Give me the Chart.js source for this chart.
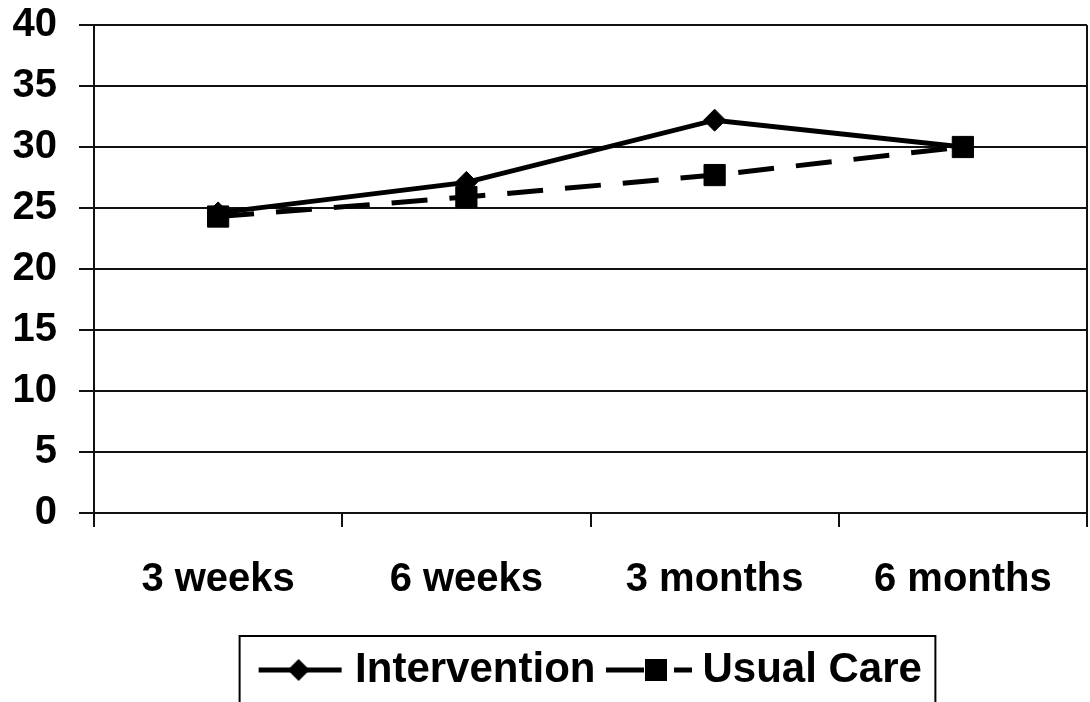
<!DOCTYPE html>
<html>
<head>
<meta charset="utf-8">
<script src="https://cdn.jsdelivr.net/npm/chart.js@4"></script>
<style>
  html, body { margin: 0; padding: 0; background: #fff; }
  #wrap { width: 1090px; height: 702px; }
</style>
</head>
<body>
<div id="wrap"><canvas id="c" width="1090" height="702"></canvas></div>
<script>
const categories = ['3 weeks', '6 weeks', '3 months', '6 months'];
const interventionValues = [24.6, 27.1, 32.2, 30.0];
const usualCareValues = [24.3, 25.9, 27.7, 30.0];
const seriesNames = ['Intervention', 'Usual Care'];
const yTickValues = [0, 5, 10, 15, 20, 25, 30, 35, 40];

const FONT = 'Liberation Sans, Arial, Helvetica, sans-serif';

function legendIcon(kind) {
  const cv = document.createElement('canvas');
  cv.width = 100; cv.height = 30;
  const g = cv.getContext('2d');
  g.strokeStyle = '#000'; g.fillStyle = '#000'; g.lineWidth = 5;
  if (kind === 'diamond') {
    g.beginPath(); g.moveTo(12, 15); g.lineTo(95, 15); g.stroke();
    g.beginPath();
    g.moveTo(52, 4); g.lineTo(63, 15); g.lineTo(52, 26); g.lineTo(41, 15); g.closePath(); g.fill();
  } else {
    g.beginPath(); g.moveTo(12, 15); g.lineTo(50, 15); g.stroke();
    g.fillRect(51, 4, 22, 22);
    g.beginPath(); g.moveTo(80, 15); g.lineTo(98, 15); g.stroke();
  }
  return cv;
}
const icons = [legendIcon('diamond'), legendIcon('square')];

const legendBorder = {
  id: 'legendBorder',
  afterDraw(chart) {
    const lg = chart.legend;
    if (!lg || !lg.legendHitBoxes || !lg.legendHitBoxes.length) return;
    const hb = lg.legendHitBoxes;
    const left = hb[0].left - 19.5;
    const last = hb[hb.length - 1];
    const right = last.left + last.width + 13.5;
    const top = lg.top - 2;
    const ctx = chart.ctx;
    ctx.save();
    ctx.strokeStyle = '#000';
    ctx.lineWidth = 2;
    ctx.strokeRect(left, top, right - left, chart.height + 10 - top);
    ctx.restore();
  }
};

new Chart(document.getElementById('c'), {
  type: 'line',
  data: {
    labels: categories,
    datasets: [
      {
        label: seriesNames[0],
        data: interventionValues,
        borderColor: '#000',
        backgroundColor: '#000',
        borderWidth: 5,
        pointStyle: 'rectRot',
        pointRadius: 11,
        pointHoverRadius: 11,
        pointBackgroundColor: '#000',
        pointBorderColor: '#000',
        pointBorderWidth: 1,
        tension: 0,
        order: 1
      },
      {
        label: seriesNames[1],
        data: usualCareValues,
        borderColor: '#000',
        backgroundColor: '#000',
        borderWidth: 5,
        borderDash: [36, 22],
        pointStyle: 'rect',
        pointRadius: 15,
        pointHoverRadius: 15,
        pointBackgroundColor: '#000',
        pointBorderColor: '#000',
        pointBorderWidth: 1,
        tension: 0,
        order: 0
      }
    ]
  },
  options: {
    responsive: false,
    animation: false,
    events: [],
    layout: { autoPadding: false, padding: { top: 25, right: 3, bottom: 1, left: 0 } },
    scales: {
      x: {
        type: 'category',
        offset: true,
        grid: {
          offset: true,
          drawOnChartArea: true,
          color: (ctx) => ((ctx.type === 'tick' && ctx.index < categories.length) ? 'rgba(0,0,0,0)' : '#111'),
          tickColor: '#111',
          lineWidth: 2,
          tickLength: 14
        },
        border: { display: true, color: '#111', width: 2 },
        ticks: {
          color: '#000',
          padding: 29,
          maxRotation: 0,
          font: { family: FONT, size: 40, weight: 'bold' }
        },
        afterFit(scale) {
          scale.height = 125;
          scale.paddingLeft = 0; scale.paddingRight = 0;
        }
      },
      y: {
        min: 0,
        max: 40,
        afterBuildTicks(scale) { scale.ticks = yTickValues.map(v => ({ value: v })); },
        grid: {
          color: '#111',
          tickColor: '#111',
          lineWidth: 2,
          tickLength: 15
        },
        border: { display: true, color: '#111', width: 2 },
        ticks: {
          color: '#000',
          padding: 22,
          font: { family: FONT, size: 40, weight: 'bold' }
        },
        afterFit(scale) {
          scale.width = 94;
          scale.paddingTop = 0; scale.paddingBottom = 0;
        }
      }
    },
    plugins: {
      tooltip: { enabled: false },
      title: { display: false },
      legend: {
        display: true,
        position: 'bottom',
        fullSize: false,
        labels: {
          usePointStyle: true,
          pointStyleWidth: 75,
          padding: 11,
          color: '#000',
          font: { family: FONT, size: 42, weight: 'bold' },
          sort: (a, b) => a.datasetIndex - b.datasetIndex,
          generateLabels(chart) {
            const items = Chart.defaults.plugins.legend.labels.generateLabels(chart);
            items.forEach(it => { it.pointStyle = icons[it.datasetIndex]; it.rotation = 0; });
            return items;
          }
        }
      }
    }
  },
  plugins: [legendBorder]
});
</script>
</body>
</html>
